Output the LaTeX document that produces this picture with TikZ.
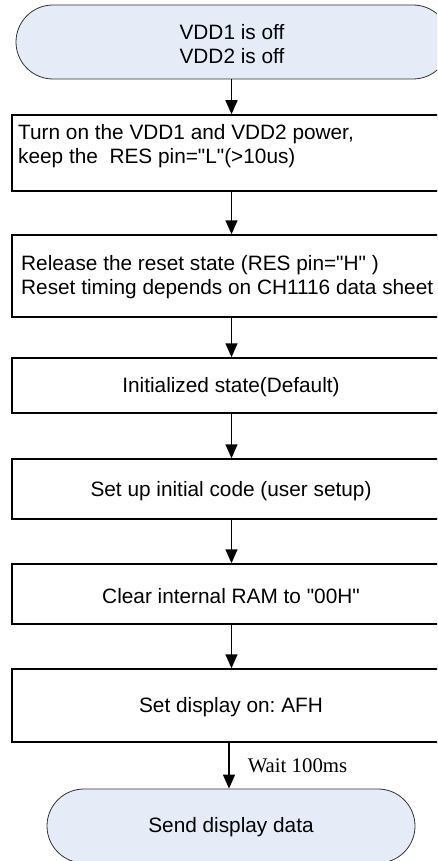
\documentclass[tikz,border=0pt]{standalone}
\usepackage{fontspec}
\setmainfont{Liberation Sans}[Ligatures=TeXOff]
\newfontfamily\serifw{Liberation Serif}[Ligatures=TeXOff]
\usetikzlibrary{arrows.meta}
\definecolor{termblue}{HTML}{E6ECF7}
\definecolor{termline}{HTML}{333333}
\frenchspacing
\begin{document}
\begin{tikzpicture}[x=1pt,y=-1pt,
  every node/.style={font=\fontsize{20.8}{24}\selectfont, inner sep=0pt},
  term/.style={draw=termline, line width=0.8pt, fill=termblue, rounded corners=37pt},
  stepbox/.style={draw=black, line width=1.5pt, minimum width=438pt},
  arr/.style={line width=1.5pt, -{Triangle[length=14pt,width=12pt]}},
  steptext/.style={align=left}
]
\useasboundingbox (0,0) rectangle (437,861);
\clip (0,0) rectangle (437,861);
\coordinate (ax) at (231.5,0);
\coordinate (ax2) at (229,0);
% terminators
\node[term, minimum width=434pt, minimum height=74pt] (t1) at (233,42) {};
\node[align=center] (t1txt) at (232,44) {VDD1 is off\\VDD2 is off};
\node[term, minimum width=368pt, minimum height=74pt] (t2) at (231,826) {};
\node (t2txt) at (231,827) {Send display data};
% process boxes
\node[stepbox, minimum height=76pt] (b2) at (231,153) {};
\node[steptext, anchor=west] (b2txt) at (18,146) {Turn on the VDD1 and VDD2 power,\\keep the\ \ RES pin="L"(>10us)};
\node[stepbox, minimum height=82pt] (b3) at (231,276) {};
\node[steptext, anchor=west] (b3txt) at (21,277) {Release the reset state (RES pin="H" )\\Reset timing depends on CH1116 data sheet};
\node[stepbox, minimum height=55pt] (b4) at (231,385.5) {};
\node (b4txt) at (231,387) {Initialized state(Default)};
\node[stepbox, minimum height=60pt] (b5) at (231,489) {};
\node (b5txt) at (231,491) {Set up initial code (user setup)};
\node[stepbox, minimum height=60pt] (b6) at (231,594) {};
\node (b6txt) at (231,596) {Clear internal RAM to "00H"};
\node[stepbox, minimum height=73pt] (b7) at (231,705.5) {};
\node (b7txt) at (231,707) {Set display on: AFH};
% connectors
\draw[arr] (t1.south -| ax) -- (b2.north -| ax);
\draw[arr] (b2.south -| ax) -- (b3.north -| ax);
\draw[arr] (b3.south -| ax) -- (b4.north -| ax);
\draw[arr] (b4.south -| ax) -- (b5.north -| ax);
\draw[arr] (b5.south -| ax) -- (b6.north -| ax);
\draw[arr] (b6.south -| ax) -- (b7.north -| ax);
\draw[arr] (b7.south -| ax2) -- node[midway, right=18pt, font=\serifw\fontsize{20.8}{24}\selectfont] (wait) {Wait 100ms} (t2.north -| ax2);
\end{tikzpicture}
\end{document}
